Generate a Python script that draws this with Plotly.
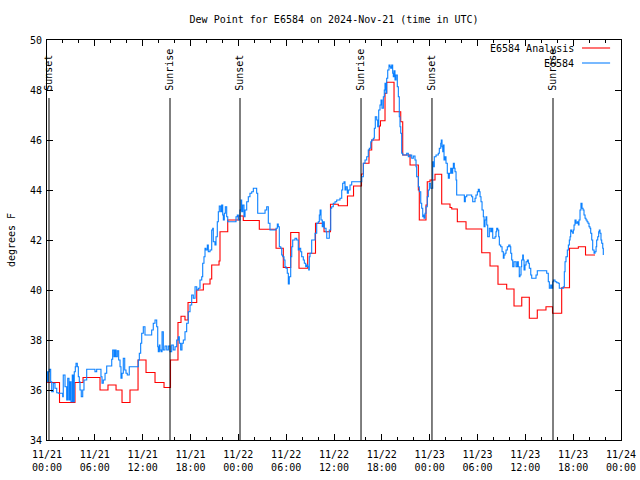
import plotly.graph_objects as go
from datetime import datetime, timedelta

BASE = datetime(2024, 11, 21)

# E6584 Analysis (hours since 2024-11-21 00:00 UTC, dew point degF)
analysis_hours = [0.00, 1.57, 3.51, 4.52, 6.65, 7.65, 8.66, 9.41, 10.41, 11.42, 12.42, 13.55, 14.68,
                  15.49, 16.43, 16.81, 17.31, 17.69, 18.78, 19.61, 20.45, 20.66, 21.58, 21.70, 22.67,
                  24.00, 24.62, 26.63, 28.73, 29.64, 30.57, 31.61, 32.70, 33.68, 34.75, 35.56, 36.54,
                  37.69, 38.45, 39.45, 39.68, 40.39, 40.73, 41.68, 41.83, 42.40, 42.61, 43.53, 44.37,
                  44.62, 45.54, 46.58, 46.70, 47.54, 47.70, 48.04, 48.67, 49.51, 50.55, 50.77, 51.47,
                  52.56, 54.53, 55.57, 56.57, 57.66, 58.58, 59.55, 60.50, 61.50, 62.59, 63.41, 64.56,
                  65.54, 66.65, 67.55, 68.74]
analysis_values = [36.3, 35.5, 36.3, 36.5, 36.0, 36.2, 36.0, 35.5, 36.0, 37.2, 36.7, 36.3, 36.1,
                   37.2, 38.7, 38.95, 38.8, 39.5, 40.0, 40.24, 40.44, 41.0, 41.16, 42.33, 42.8,
                   42.96, 42.78, 42.43, 41.67, 40.9, 42.3, 40.87, 41.47, 42.67, 42.33, 43.43, 43.37,
                   43.76, 44.16, 44.64, 45.07, 45.6, 46.0, 46.56, 46.77, 47.87, 48.31, 47.13, 46.73,
                   45.4, 45.0, 44.0, 42.8, 43.4, 44.33, 44.4, 44.63, 43.44, 43.3, 43.24, 42.73,
                   42.44, 41.49, 40.96, 40.23, 40.04, 39.36, 39.71, 38.87, 39.2, 39.33, 39.07, 40.09,
                   41.67, 41.73, 41.4, 41.4]

# E6584 station observations
station_hours = [0.00, 0.04, 0.16, 0.29, 0.46, 0.59, 0.79, 1.00, 1.22, 1.42, 1.97, 2.04, 2.26, 2.47,
                 2.60, 2.76, 2.89, 3.01, 3.17, 3.30, 3.42, 3.55, 3.64, 3.80, 3.93, 4.05, 4.14, 4.30,
                 4.48, 4.64, 4.98, 6.02, 6.23, 6.77, 6.90, 7.06, 7.28, 7.49, 8.12, 8.24, 8.40, 8.53,
                 8.66, 8.82, 8.99, 9.16, 9.28, 9.41, 9.57, 9.75, 9.91, 10.07, 10.32, 11.45, 11.58,
                 11.75, 11.88, 12.08, 12.29, 13.13, 13.33, 13.55, 13.76, 13.89, 13.96, 14.09, 14.17,
                 14.30, 14.43, 14.59, 14.80, 15.02, 15.22, 15.43, 15.64, 15.84, 16.06, 16.27, 16.47,
                 16.60, 16.77, 16.93, 17.10, 17.31, 17.52, 17.72, 17.94, 18.15, 18.35, 18.57, 18.78,
                 18.98, 19.19, 19.41, 19.53, 19.69, 19.82, 19.94, 20.11, 20.23, 20.45, 20.66, 20.79,
                 20.86, 21.07, 21.20, 21.36, 21.49, 21.61, 21.79, 21.91, 22.04, 22.12, 22.24, 22.37,
                 22.54, 22.67, 23.71, 23.87, 24.00, 24.21, 24.34, 24.42, 24.55, 24.71, 24.84, 25.05,
                 25.25, 25.46, 25.68, 25.88, 26.30, 26.43, 27.35, 27.56, 27.76, 27.97, 28.73, 28.89,
                 29.01, 29.14, 29.32, 29.44, 29.57, 29.73, 29.85, 29.98, 30.14, 30.27, 30.39, 30.57,
                 30.70, 30.82, 31.11, 31.32, 31.52, 31.65, 31.82, 31.95, 32.15, 32.28, 32.45, 32.58,
                 32.70, 32.83, 32.90, 32.99, 33.20, 33.62, 33.83, 34.03, 34.16, 34.25, 34.37, 34.53,
                 34.66, 34.78, 35.00, 35.09, 35.41, 35.59, 35.71, 35.91, 36.13, 36.34, 36.75, 36.97,
                 37.09, 37.26, 37.38, 37.51, 37.67, 37.80, 38.01, 38.22, 39.48, 39.68, 39.89, 40.10,
                 40.30, 40.43, 40.61, 40.73, 40.93, 41.06, 41.18, 41.36, 41.48, 41.61, 41.77, 41.90,
                 42.02, 42.19, 42.31, 42.40, 42.52, 42.61, 42.74, 42.90, 43.03, 43.11, 43.24, 43.36,
                 43.44, 43.53, 43.65, 43.78, 43.94, 44.07, 44.19, 44.28, 44.37, 44.49, 44.62, 45.12,
                 45.32, 45.54, 45.75, 45.95, 46.16, 46.29, 46.37, 46.58, 46.70, 46.88, 47.00, 47.13,
                 47.20, 47.29, 47.42, 47.54, 47.70, 47.83, 47.96, 48.13, 48.26, 48.38, 48.46, 48.58,
                 48.80, 49.08, 49.21, 49.39, 49.46, 49.55, 49.64, 49.71, 49.80, 49.93, 50.05, 50.21,
                 50.34, 50.47, 50.64, 50.77, 50.89, 50.97, 51.09, 51.18, 51.31, 51.39, 52.35, 52.47,
                 52.65, 53.27, 53.40, 53.69, 53.81, 53.98, 54.10, 54.23, 54.32, 54.44, 54.57, 54.73,
                 54.82, 54.94, 55.07, 55.16, 55.28, 55.48, 55.66, 55.78, 55.91, 56.20, 56.32, 56.41,
                 56.54, 56.66, 56.74, 56.91, 57.08, 57.24, 57.33, 57.45, 57.58, 57.74, 57.92, 58.08,
                 58.17, 58.29, 58.42, 58.58, 58.83, 58.99, 59.12, 59.24, 59.33, 59.46, 59.54, 59.67,
                 59.75, 59.84, 59.96, 60.09, 60.25, 60.38, 60.50, 60.68, 60.80, 61.34, 61.50, 62.68,
                 62.88, 63.01, 63.18, 63.31, 63.43, 63.51, 63.72, 63.94, 64.14, 64.26, 64.76, 64.89,
                 64.98, 65.10, 65.27, 65.40, 65.52, 65.61, 65.69, 65.82, 65.94, 66.02, 66.11, 66.23,
                 66.36, 66.52, 66.65, 66.73, 66.86, 66.98, 67.11, 67.24, 67.36, 67.49, 67.61, 67.74,
                 67.86, 67.99, 68.11, 68.20, 68.33, 68.45, 68.62, 68.74, 68.87, 68.95, 69.08, 69.20,
                 69.28, 69.37, 69.49, 69.58, 69.71, 69.78]
station_values = [36.73, 36.33, 36.73, 36.83, 36.33, 35.93, 36.27, 36.07, 35.89, 35.87, 35.73, 36.6,
                  36.13, 35.6, 36.47, 35.6, 36.33, 35.53, 36.6, 35.53, 36.73, 36.93, 37.07, 36.93,
                  36.53, 36.33, 36.0, 35.73, 36.0, 36.4, 36.83, 36.73, 36.83, 36.53, 36.27, 36.4,
                  36.67, 36.96, 37.23, 37.6, 37.33, 37.6, 37.33, 37.57, 37.2, 36.93, 36.47, 36.67,
                  37.27, 36.8, 36.67, 36.6, 36.93, 37.2, 37.47, 37.87, 38.27, 38.53, 38.2, 38.4,
                  38.67, 38.8, 38.53, 37.73, 37.53, 37.8, 37.6, 37.53, 38.33, 37.6, 37.76, 37.6,
                  37.76, 37.53, 37.8, 37.6, 37.73, 38.0, 38.13, 37.87, 37.6, 37.87, 38.0, 38.33,
                  38.67, 39.13, 39.4, 39.8, 39.67, 40.13, 40.0, 40.07, 40.4, 40.53, 41.07, 41.33,
                  41.67, 41.6, 41.8, 41.53, 41.6, 42.4, 42.47, 41.93, 41.8, 42.13, 42.73, 43.13,
                  43.36, 43.13, 43.4, 43.0, 42.8, 43.07, 43.33, 42.93, 42.73, 42.93, 43.0, 42.8,
                  43.2, 43.6, 43.13, 43.4, 42.93, 43.2, 43.53, 43.73, 43.87, 43.93, 44.07, 43.87,
                  43.07, 43.2, 43.33, 42.67, 42.4, 42.47, 42.64, 42.53, 41.73, 41.67, 41.4, 41.33,
                  41.2, 40.93, 40.87, 40.67, 40.24, 40.53, 41.33, 41.73, 42.0, 42.07, 42.0, 41.6,
                  41.67, 41.53, 41.33, 41.2, 41.07, 40.93, 41.0, 40.93, 40.8, 41.33, 41.47, 42.0,
                  42.27, 42.67, 42.73, 43.0, 43.2, 42.8, 42.53, 42.73, 42.47, 42.33, 42.07, 42.4,
                  43.27, 43.33, 43.47, 43.53, 43.6, 43.67, 44.0, 44.27, 44.33, 44.0, 44.13, 43.87,
                  44.0, 44.2, 44.33, 44.53, 45.07, 45.2, 45.33, 45.6, 45.67, 45.93, 46.0, 46.07,
                  46.47, 46.93, 46.8, 46.53, 47.2, 47.4, 47.6, 47.27, 47.73, 48.0, 48.27, 47.87,
                  48.47, 48.8, 49.0, 48.93, 48.87, 49.0, 48.67, 48.53, 48.77, 48.4, 48.6, 48.13,
                  47.73, 46.93, 46.53, 46.27, 45.47, 45.4, 45.47, 45.33, 45.4, 45.27, 45.36, 45.2,
                  44.93, 44.53, 44.13, 43.93, 43.47, 43.27, 42.93, 43.0, 42.87, 43.07, 43.33, 43.73,
                  44.0, 44.27, 44.07, 44.07, 45.13, 44.93, 45.33, 45.4, 45.47, 45.67, 45.87, 46.0,
                  45.73, 45.53, 45.8, 45.2, 45.33, 45.07, 44.67, 44.47, 44.67, 44.87, 44.67, 44.87,
                  45.07, 44.87, 44.73, 44.4, 43.8, 43.53, 43.73, 43.8, 43.73, 43.53, 43.67, 43.8,
                  43.93, 44.03, 43.93, 43.73, 43.53, 43.2, 42.93, 42.53, 42.8, 42.93, 42.6, 42.13,
                  42.47, 42.33, 42.47, 42.07, 42.13, 42.33, 42.47, 42.4, 42.13, 41.8, 41.73, 41.53,
                  41.27, 41.4, 41.47, 41.6, 41.73, 41.8, 41.73, 41.47, 41.2, 40.93, 41.13, 40.93,
                  41.13, 40.93, 40.53, 40.6, 40.93, 41.2, 41.4, 41.2, 40.8, 41.0, 41.13, 41.2,
                  41.07, 40.87, 40.6, 40.47, 40.6, 40.77, 40.67, 40.33, 40.07, 40.2, 40.07, 40.33,
                  40.4, 40.33, 40.29, 40.27, 40.07, 40.13, 40.73, 41.13, 41.33, 41.6, 41.8, 42.0,
                  42.13, 42.4, 42.33, 42.27, 42.4, 42.6, 42.8, 42.67, 42.73, 42.6, 42.8, 43.2,
                  43.47, 43.27, 43.2, 43.0, 42.87, 42.8, 42.73, 42.67, 42.53, 42.47, 42.27, 42.0,
                  41.6, 41.47, 41.53, 41.73, 42.0, 42.13, 42.33, 42.4, 42.27, 42.0, 41.87, 41.67,
                  41.4]

event_hours = [0.25, 15.43, 24.21, 39.39, 48.29, 63.47]
event_labels = ["Sunset", "Sunrise", "Sunset", "Sunrise", "Sunset", "Sunrise"]

tick_hours = list(range(0, 73, 6))
tick_labels = ["11/21<br>00:00", "11/21<br>06:00", "11/21<br>12:00", "11/21<br>18:00",
               "11/22<br>00:00", "11/22<br>06:00", "11/22<br>12:00", "11/22<br>18:00",
               "11/23<br>00:00", "11/23<br>06:00", "11/23<br>12:00", "11/23<br>18:00",
               "11/24<br>00:00"]

series_names = ["E6584 Analysis", "E6584"]
series_colors = ["#ff0000", "#0a80ff"]


def to_time(hours):
    return [BASE + timedelta(hours=h) for h in hours]


FONT = "DejaVu Sans Mono"

fig = go.Figure()
fig.add_trace(go.Scatter(x=to_time(analysis_hours), y=analysis_values, mode="lines",
                         line=dict(color=series_colors[0], width=1.1, shape="hv"),
                         name=series_names[0], showlegend=False))
fig.add_trace(go.Scatter(x=to_time(station_hours), y=station_values, mode="lines",
                         line=dict(color=series_colors[1], width=1.1, shape="hv"),
                         name=series_names[1], showlegend=False))

shapes = []
annotations = []
for h, lab in zip(event_hours, event_labels):
    t = BASE + timedelta(hours=h)
    shapes.append(dict(type="line", xref="x", yref="paper", x0=t, x1=t, y0=0, y1=0.855,
                       line=dict(color="black", width=1)))
    annotations.append(dict(x=t, y=0.868, xref="x", yref="paper", text=lab, showarrow=False,
                            textangle=-90, xanchor="center", yanchor="bottom",
                            font=dict(family=FONT, size=10, color="black")))

# legend (gnuplot style: text then sample line)
legend_y = [0.98, 0.9425]
for name, col, ly in zip(series_names, series_colors, legend_y):
    annotations.append(dict(x=0.921, y=ly, xref="paper", yref="paper", text=name, showarrow=False,
                            xanchor="right", yanchor="middle",
                            font=dict(family=FONT, size=10, color="black")))
    shapes.append(dict(type="line", xref="paper", yref="paper", x0=0.932, x1=0.981, y0=ly, y1=ly,
                       line=dict(color=col, width=1.1)))

fig.update_layout(
    width=640, height=480,
    margin=dict(l=47, r=19, t=40, b=40, autoexpand=False),
    paper_bgcolor="white", plot_bgcolor="white",
    title=dict(text="Dew Point for E6584 on 2024-Nov-21 (time in UTC)", x=0.522, xanchor="center",
               y=0.96, yanchor="middle", font=dict(family=FONT, size=10, color="black"),
               automargin=False),
    font=dict(family=FONT, size=10, color="black"),
    shapes=shapes, annotations=annotations,
)
fig.update_xaxes(range=[BASE, BASE + timedelta(hours=72)], tickmode="array",
                 tickvals=to_time(tick_hours), ticktext=tick_labels, automargin=False,
                 ticks="inside", ticklen=6, tickcolor="black", showline=True, linecolor="black",
                 linewidth=1, mirror="ticks", showgrid=False, zeroline=False,
                 ticklabelstandoff=5,
                 tickfont=dict(family=FONT, size=10, color="black"),
                 minor=dict(tickmode="linear", tick0=BASE, dtick=7200000, ticks="inside",
                            ticklen=3, tickcolor="black", showgrid=False))
fig.update_yaxes(range=[34, 50], dtick=2, tick0=34, ticks="inside", ticklen=6, tickcolor="black",
                 showline=True, linecolor="black", linewidth=1, mirror="ticks", showgrid=False,
                 zeroline=False, automargin=False, ticklabelstandoff=2,
                 tickfont=dict(family=FONT, size=10, color="black"),
                 title=dict(text="degrees F", font=dict(family=FONT, size=10, color="black"),
                            standoff=12))

fig.write_html("out.html", config={"displayModeBar": False},
               post_script="document.body.style.margin='0';document.body.style.padding='0';")
